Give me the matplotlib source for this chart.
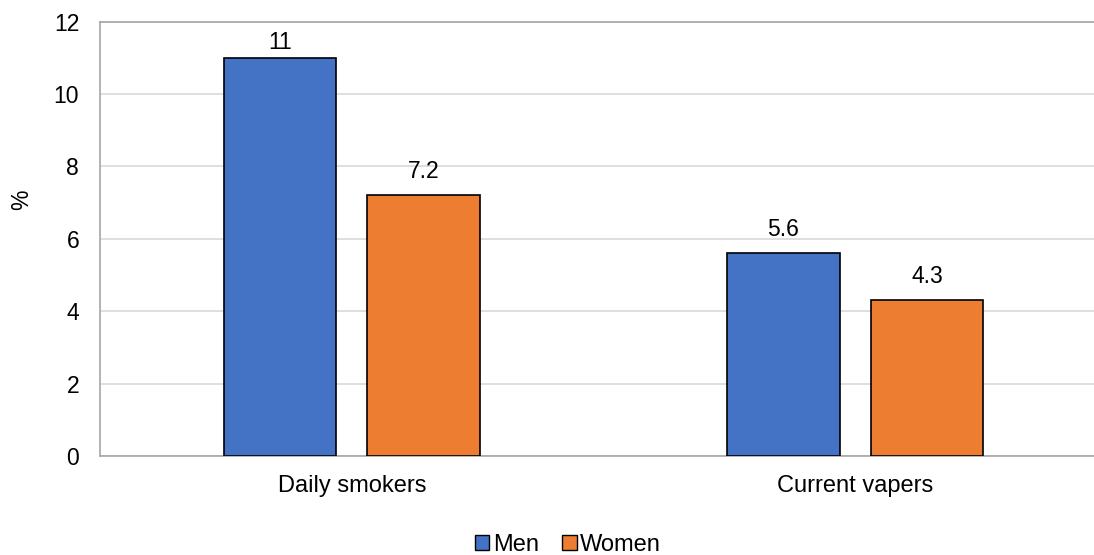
import numpy as np
import matplotlib.pyplot as plt
from matplotlib.patches import Patch

plt.rcParams['font.family'] = ['Liberation Sans', 'DejaVu Sans']
plt.rcParams['font.size'] = 16.5

# data
categories = ['Daily smokers', 'Current vapers']
men = [11, 5.6]
women = [7.2, 4.3]
yticks = [0, 2, 4, 6, 8, 10, 12]

blue = '#4472C4'
orange = '#ED7D31'
ymax = 12

fig = plt.figure(figsize=(10.94, 5.55), dpi=100)
ax = fig.add_axes([100 / 1094, 1 - 456 / 555, 1007 / 1094, (456 - 21.5) / 555])

x = np.arange(len(categories))
w = 0.2225
off = 0.1425
b1 = ax.bar(x - off, men, w, color=blue, edgecolor='black', linewidth=1.2, zorder=3, label='Men')
b2 = ax.bar(x + off, women, w, color=orange, edgecolor='black', linewidth=1.2, zorder=3, label='Women')

# value labels; a label that would run past the top is tucked under the frame
for bars, vals in ((b1, men), (b2, women)):
    for r, v in zip(bars, vals):
        cx = r.get_x() + r.get_width() / 2
        if v > ymax - 1.5:
            ax.annotate(f'{v:g}', (cx, ymax), xytext=(0, -7), textcoords='offset points',
                        ha='center', va='top')
        else:
            ax.annotate(f'{v:g}', (cx, v), xytext=(0, 9), textcoords='offset points',
                        ha='center', va='bottom')

ax.set_xlim(-0.5, 1.5)
ax.set_ylim(0, ymax)
ax.set_yticks(yticks)
ax.set_xticks(x)
ax.set_xticklabels(categories, fontsize=17)
ax.tick_params(axis='y', length=0, pad=15)
ax.tick_params(axis='x', length=0, pad=14)
ax.yaxis.grid(True, color='#d9d9d9', linewidth=1.2, zorder=0)
ax.set_axisbelow(True)
for s in ('left', 'bottom', 'top', 'right'):
    ax.spines[s].set_color('#a6a6a6')
    ax.spines[s].set_linewidth(1.2)

ax.set_ylabel('%')
ax.yaxis.set_label_coords(-67 / 1007, 0.589)

handles = [Patch(facecolor=blue, edgecolor='black', label='Men'),
           Patch(facecolor=orange, edgecolor='black', label='Women')]
fig.legend(handles=handles, loc='center', bbox_to_anchor=(568 / 1094, 1 - 545 / 555), ncol=2,
           frameon=False, handlelength=0.6, handleheight=0.6, handletextpad=0.15, columnspacing=1.0,
           fontsize=17)

fig.savefig('out.png', dpi=100)
